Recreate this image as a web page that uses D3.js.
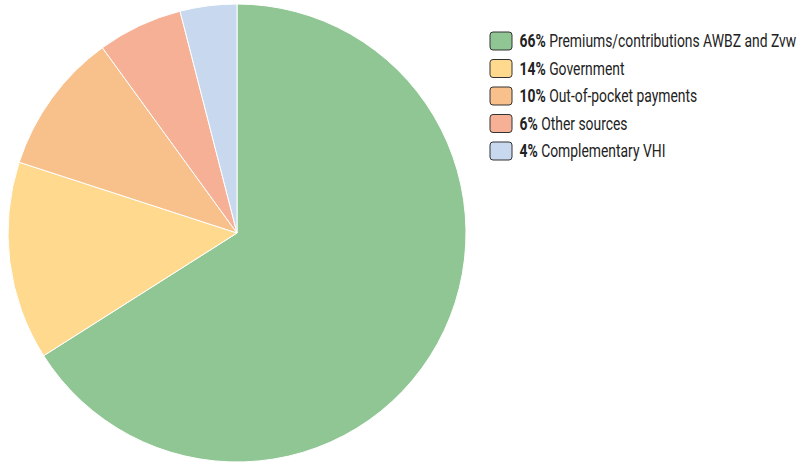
<!DOCTYPE html>
<html>
<head>
<meta charset="utf-8">
<script src="https://cdn.jsdelivr.net/npm/d3@7"></script>
<style>
  body { margin: 0; background: #fff; }
  text { font-family: Roboto, "Liberation Sans", sans-serif; }
</style>
</head>
<body>
<div id="canvas"></div>
<script>
let labels = ["Premiums/contributions AWBZ and Zvw", "Government", "Out-of-pocket payments", "Other sources", "Complementary VHI"];
let values = [66, 14, 10, 6, 4];
let colors = ["#8fc694", "#fed98e", "#f8c08a", "#f5b096", "#c8d8ee"];

let width = 807, height = 465;
let cx = 237, cy = 233, radius = 229;

let svg = d3
  .select("#canvas")
  .append("svg")
  .attr("width", width)
  .attr("height", height);

let data = values.map((v, i) => ({ label: labels[i], value: v, color: colors[i] }));

let pie = d3.pie().value((d) => d.value).sort(null);
let arc = d3.arc().innerRadius(0).outerRadius(radius);

svg
  .append("g")
  .attr("transform", `translate(${cx},${cy})`)
  .selectAll("path")
  .data(pie(data))
  .join("path")
  .attr("d", arc)
  .attr("fill", (d) => d.data.color)
  .attr("stroke", "#fff")
  .attr("stroke-width", 1);

// legend
let legendY = d3.scaleLinear().domain([0, 1]).range([41, 68.5]);

let legend = svg
  .append("g")
  .selectAll("g")
  .data(data)
  .join("g")
  .attr("transform", (d, i) => `translate(490,${legendY(i)})`);

legend
  .append("rect")
  .attr("x", 0)
  .attr("y", -9)
  .attr("width", 22)
  .attr("height", 18)
  .attr("rx", 3)
  .attr("fill", (d) => d.color)
  .attr("stroke", "#333")
  .attr("stroke-width", 1);

let txt = legend
  .append("text")
  .attr("y", 6)
  .attr("font-size", 18)
  .attr("fill", "#222");

txt.append("tspan").attr("font-weight", "bold").text((d) => d.value + "%");
txt.append("tspan").text((d) => " " + d.label);

// squeeze to a condensed look: first row is ~277px wide in the original
let w = txt.nodes()[0].getComputedTextLength();
let k = 277 / w;
txt.attr("transform", `translate(29.5,0) scale(${k},1)`);
</script>
</body>
</html>
